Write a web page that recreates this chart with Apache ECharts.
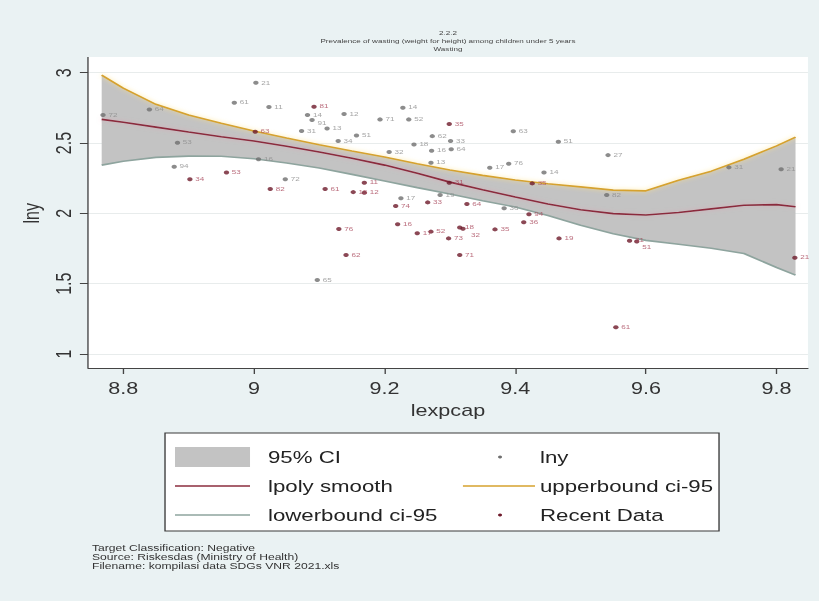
<!DOCTYPE html>
<html>
<head>
<meta charset="utf-8">
<script src="https://cdn.jsdelivr.net/npm/echarts@6/dist/echarts.min.js"></script>
<style>
  html, body { margin: 0; padding: 0; background: #eaf2f3; overflow: hidden; }
  #wrap { width: 819px; height: 601px; overflow: hidden; position: relative; background: #eaf2f3; }
  /* the graph is laid out at 607px wide and widened to the full frame */
  #chart { width: 607px; height: 601px; transform: scale(1.34926, 1); transform-origin: 0 0; }
</style>
</head>
<body>
<div id="wrap"><div id="chart"></div></div>
<script>
// ---- data -------------------------------------------------------------
const xTickValues = [8.8, 9, 9.2, 9.4, 9.6, 9.8];

// lny, all years (grey)
const lnyX = [9.003, 8.970, 9.023, 9.082, 9.089, 9.073, 8.840, 8.769, 8.883, 9.007,
              8.878, 9.048, 9.097, 9.138, 9.112, 9.228, 9.193, 9.237, 9.397, 9.157,
              9.129, 9.273, 9.301, 9.302, 9.245, 9.272, 9.207, 9.271, 9.361, 9.390,
              9.285, 9.225, 9.383, 9.466, 9.542, 9.444, 9.727, 9.807, 9.540];
const lnyY = [2.928, 2.786, 2.756, 2.699, 2.663, 2.585, 2.739, 2.699, 2.502, 2.384,
              2.332, 2.242, 1.526, 2.706, 2.604, 2.751, 2.668, 2.668, 2.583, 2.554,
              2.514, 2.549, 2.514, 2.455, 2.490, 2.445, 2.436, 2.360, 2.324, 2.353,
              2.130, 2.107, 2.036, 2.509, 2.414, 2.291, 2.327, 2.313, 2.130];
const lnyLab = ['21', '61', '11', '14', '91', '31', '64', '72', '53', '16',
                '94', '72', '65', '12', '13', '14', '71', '52', '63', '51',
                '34', '62', '33', '64', '18', '16', '32', '13', '17', '76',
                '19', '17', '36', '51', '27', '14', '31', '21', '82'];

// most recent observation per province (dark red)
const recentX = [9.092, 9.002, 8.902, 8.958, 9.025, 9.109, 9.299, 9.299, 9.169, 9.152,
                 9.169, 9.266, 9.217, 9.326, 9.220, 9.130, 9.315, 9.320, 9.250, 9.271,
                 9.298, 9.369, 9.141, 9.315, 9.421, 9.413, 9.467, 9.575, 9.586, 9.828,
                 9.554, 9.426];
const recentY = [2.758, 2.580, 2.242, 2.291, 2.173, 2.173, 2.635, 2.218, 2.218, 2.151,
                 2.146, 2.078, 2.052, 2.066, 1.922, 1.888, 1.900, 1.890, 1.858, 1.870,
                 1.822, 1.886, 1.704, 1.704, 1.993, 1.936, 1.822, 1.805, 1.800, 1.684,
                 1.190, 2.213];
const recentLab = ['81', '63', '34', '53', '82', '61', '35', '31', '11', '15',
                   '12', '33', '74', '64', '16', '76', '18', '32', '17', '52',
                   '73', '35', '62', '71', '94', '36', '19', '31', '51', '21',
                   '61', '35'];

// local polynomial smooth and its 95% band
const smoothX = [8.767, 8.8, 8.85, 8.9, 8.95, 9.0, 9.05, 9.1, 9.15, 9.2, 9.25, 9.3,
                 9.35, 9.4, 9.45, 9.5, 9.55, 9.6, 9.65, 9.7, 9.75, 9.8, 9.829];
const lpolyY  = [2.668, 2.648, 2.613, 2.578, 2.545, 2.514, 2.477, 2.436, 2.392, 2.343, 2.285, 2.222,
                 2.168, 2.116, 2.066, 2.025, 1.998, 1.988, 2.006, 2.032, 2.058, 2.062, 2.047];
const ciUpper = [2.983, 2.890, 2.775, 2.700, 2.640, 2.585, 2.535, 2.488, 2.443, 2.400, 2.353, 2.308,
                 2.270, 2.237, 2.210, 2.188, 2.165, 2.160, 2.235, 2.300, 2.385, 2.480, 2.542];
const ciLower = [2.343, 2.370, 2.398, 2.407, 2.406, 2.388, 2.358, 2.322, 2.277, 2.230, 2.183, 2.137,
                 2.090, 2.045, 1.985, 1.915, 1.855, 1.808, 1.780, 1.752, 1.715, 1.615, 1.561];

const titleLines = ['2.2.2',
  'Prevalence of wasting (weight for height) among children under 5 years',
  'Wasting'];
const noteLines = ['Target Classification: Negative',
  'Source: Riskesdas (Ministry of Health)',
  'Filename: kompilasi data SDGs VNR 2021.xls'];

// ---- chart ------------------------------------------------------------
const FONT = '"Liberation Sans", Arial, Helvetica, sans-serif';
const C_BAND = '#c3c3c3', C_LPOLY = '#8b2c3e', C_UP = '#d6a22e', C_LOW = '#8ea49e';
const C_GREY = '#6f6f6f', C_RED = '#6e1a2b';

// marker labels that would sit on top of a neighbour get nudged down a little
const labelNudge = { lny: { 4: [0, 3] }, recent: { 17: [2, 6], 28: [0, 6] } };

const pair = (xs, ys) => xs.map((x, i) => [x, ys[i]]);
const labelled = (xs, ys, ls, nudge) => xs.map((x, i) => {
  const item = { value: [x, ys[i], ls[i]] };
  if (nudge[i]) item.label = { offset: nudge[i] };
  return item;
});

const chart = echarts.init(document.getElementById('chart'), null, { renderer: 'svg' });

const lineSeries = (name, ys, color, glow) => ({
  name, type: 'line', data: pair(smoothX, ys), symbol: 'none',
  lineStyle: Object.assign({ color, width: 1.6 }, glow ? { shadowColor: glow, shadowBlur: 4 } : {}),
  z: 4, silent: true
});

const scatterSeries = (name, xs, ys, ls, nudge, color, labelColor) => ({
  name, type: 'scatter', data: labelled(xs, ys, ls, nudge), symbolSize: 4, z: 6,
  itemStyle: { color },
  label: {
    show: true, position: 'right', distance: 2, fontSize: 6, fontFamily: FONT,
    color: labelColor, formatter: p => p.value[2]
  }
});

// 95% band: polygon through the upper bound and back along the lower bound
const bandSeries = {
  name: '95% CI', type: 'custom', z: 2, silent: true,
  data: smoothX.map((x, i) => [x, ciLower[i], ciUpper[i]]),
  encode: { x: 0, y: [1, 2] },
  renderItem: (params, api) => {
    if (params.dataIndex !== 0) return null;
    const pts = [];
    for (let i = 0; i < smoothX.length; i++) pts.push(api.coord([smoothX[i], ciUpper[i]]));
    for (let i = smoothX.length - 1; i >= 0; i--) pts.push(api.coord([smoothX[i], ciLower[i]]));
    return { type: 'polygon', shape: { points: pts }, style: { fill: C_BAND } };
  }
};

// legend layout (chart pixel units)
const LG = { x: 122.3, y: 433, w: 410.6, h: 98, col1: 129.7, sw: 55.6, txt1: 198.6,
             col2a: 343.1, col2b: 396.5, dot: 370.6, txt2: 400.2, rows: [457, 486, 515] };
const legendText = (text, x, y) => ({
  type: 'text', x, y, z: 101,
  style: { text, fontSize: 16.5, fontFamily: FONT, fill: '#222', verticalAlign: 'middle' }
});

chart.setOption({
  backgroundColor: '#eaf2f3',
  animation: false,
  grid: { left: 65.2, right: 8.2, top: 72.7, bottom: 247 },
  xAxis: {
    type: 'value', min: 8.746, max: 9.848, offset: 14,
    axisLine: { lineStyle: { color: '#444', width: 1 } },
    axisTick: { customValues: xTickValues, length: 6, lineStyle: { color: '#444' } },
    axisLabel: { customValues: xTickValues, fontSize: 16, fontFamily: FONT, color: '#333', margin: 13 },
    splitLine: { show: false },
    name: 'lexpcap', nameLocation: 'middle', nameGap: 35,
    nameTextStyle: { fontSize: 16, fontFamily: FONT, color: '#333' }
  },
  yAxis: {
    type: 'value', min: 1, max: 3, interval: 0.5,
    axisLine: { show: false },
    axisTick: { show: true, length: 6, lineStyle: { color: '#444' } },
    axisLabel: { rotate: 90, fontSize: 16, fontFamily: FONT, color: '#333', margin: 10 },
    splitLine: { lineStyle: { color: '#e8ecec', width: 1 } },
    name: 'lny', nameLocation: 'middle', nameGap: 27,
    nameTextStyle: { fontSize: 16, fontFamily: FONT, color: '#333' }
  },
  series: [
    bandSeries,
    lineSeries('lpoly smooth', lpolyY, C_LPOLY, 'rgba(230,150,170,0.6)'),
    lineSeries('upperbound ci-95', ciUpper, C_UP, 'rgba(255,225,130,0.9)'),
    lineSeries('lowerbound ci-95', ciLower, C_LOW),
    scatterSeries('lny', lnyX, lnyY, lnyLab, labelNudge.lny, C_GREY, '#8d8d8d'),
    scatterSeries('Recent Data', recentX, recentY, recentLab, labelNudge.recent, C_RED, '#a9475b')
  ],
  graphic: [
    // plot region
    { type: 'rect', z: -100, silent: true,
      shape: { x: 65.2, y: 57, width: 533.6, height: 311 }, style: { fill: '#ffffff' } },
    { type: 'line', z: 100, silent: true,
      shape: { x1: 65.2, y1: 57, x2: 65.2, y2: 368 }, style: { stroke: '#444', lineWidth: 1 } },
    // title
    ...titleLines.map((t, i) => ({
      type: 'text', x: 332, y: 33 + i * 8, z: 100,
      style: { text: t, fontSize: 6, fontFamily: FONT, fill: '#444', align: 'center', verticalAlign: 'middle' }
    })),
    // legend
    { type: 'rect', z: 100, shape: { x: LG.x, y: LG.y, width: LG.w, height: LG.h },
      style: { fill: '#ffffff', stroke: '#3a3a3a', lineWidth: 1 } },
    { type: 'rect', z: 101, shape: { x: LG.col1, y: LG.rows[0] - 10, width: LG.sw, height: 20 },
      style: { fill: C_BAND } },
    { type: 'line', z: 101, shape: { x1: LG.col1, y1: LG.rows[1], x2: LG.col1 + LG.sw, y2: LG.rows[1] },
      style: { stroke: C_LPOLY, lineWidth: 1.6 } },
    { type: 'line', z: 101, shape: { x1: LG.col1, y1: LG.rows[2], x2: LG.col1 + LG.sw, y2: LG.rows[2] },
      style: { stroke: C_LOW, lineWidth: 1.6 } },
    { type: 'circle', z: 101, shape: { cx: LG.dot, cy: LG.rows[0], r: 1.5 }, style: { fill: C_GREY } },
    { type: 'line', z: 101, shape: { x1: LG.col2a, y1: LG.rows[1], x2: LG.col2b, y2: LG.rows[1] },
      style: { stroke: C_UP, lineWidth: 1.6 } },
    { type: 'circle', z: 101, shape: { cx: LG.dot, cy: LG.rows[2], r: 1.5 }, style: { fill: C_RED } },
    legendText('95% CI', LG.txt1, LG.rows[0]),
    legendText('lpoly smooth', LG.txt1, LG.rows[1]),
    legendText('lowerbound ci-95', LG.txt1, LG.rows[2]),
    legendText('lny', LG.txt2, LG.rows[0]),
    legendText('upperbound ci-95', LG.txt2, LG.rows[1]),
    legendText('Recent Data', LG.txt2, LG.rows[2]),
    // notes
    ...noteLines.map((t, i) => ({
      type: 'text', x: 68.2, y: 548 + i * 9, z: 100,
      style: { text: t, fontSize: 9, fontFamily: FONT, fill: '#333', verticalAlign: 'middle' }
    }))
  ]
});
</script>
</body>
</html>
